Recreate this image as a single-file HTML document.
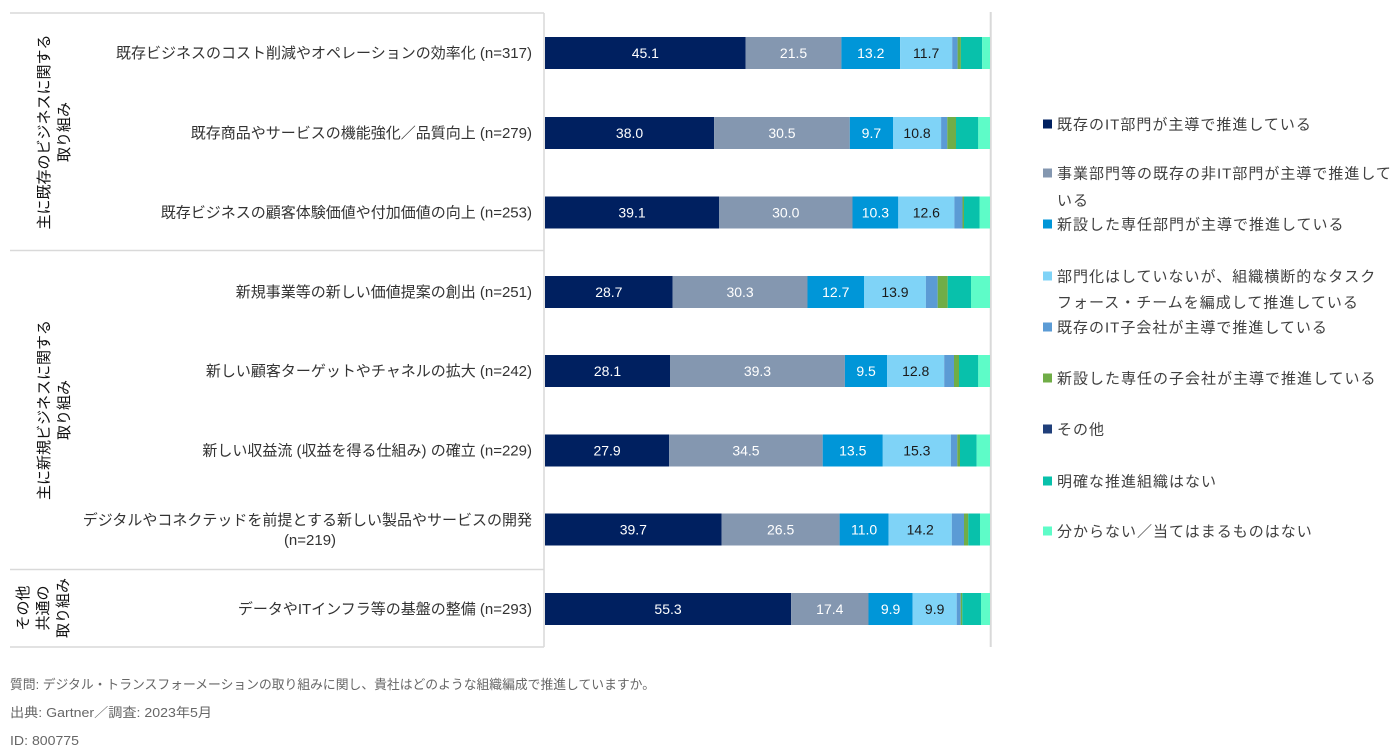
<!DOCTYPE html>
<html><head><meta charset="utf-8"><style>
html,body{margin:0;padding:0;background:#fff;}
svg{display:block;}
text{font-family:"Liberation Sans","Noto Sans CJK JP",sans-serif;}
.lbl{font-size:15px;fill:#333;text-anchor:end;}
.grp{font-size:15px;fill:#111;text-anchor:middle;}
.dv{font-size:14px;text-anchor:middle;fill:#fff;}
.dk{fill:#1a1a1a;}
.lg{font-size:15px;fill:#404040;letter-spacing:1px;}
.ft{font-size:13px;fill:#666;}
</style></head><body>
<svg width="1400" height="754" viewBox="0 0 1400 754" xmlns="http://www.w3.org/2000/svg">
<rect width="1400" height="754" fill="#fff"/>
<!-- table lines -->
<g stroke="#d9d9d9" stroke-width="1.5" fill="none">
<line x1="10" y1="13" x2="544" y2="13"/>
<line x1="10" y1="250.5" x2="544" y2="250.5"/>
<line x1="10" y1="569.5" x2="544" y2="569.5"/>
<line x1="10" y1="647" x2="544" y2="647"/>
<line x1="544" y1="13" x2="544" y2="647"/>
<line x1="990.7" y1="12" x2="990.7" y2="647" stroke-width="2"/>
</g>
<!-- group labels -->
<text class="grp" transform="translate(0,132) rotate(-90)"><tspan x="0" y="49">主に既存のビジネスに関する</tspan><tspan x="0" y="69">取り組み</tspan></text>
<text class="grp" transform="translate(0,410) rotate(-90)"><tspan x="0" y="49">主に新規ビジネスに関する</tspan><tspan x="0" y="69">取り組み</tspan></text>
<text class="grp" transform="translate(0,608) rotate(-90)"><tspan x="0" y="28">その他</tspan><tspan x="0" y="48">共通の</tspan><tspan x="0" y="68">取り組み</tspan></text>
<!-- row labels -->
<text class="lbl" x="532" y="58">既存ビジネスのコスト削減やオペレーションの効率化 (n=317)</text>
<text class="lbl" x="532" y="138">既存商品やサービスの機能強化／品質向上 (n=279)</text>
<text class="lbl" x="532" y="217.5">既存ビジネスの顧客体験価値や付加価値の向上 (n=253)</text>
<text class="lbl" x="532" y="297">新規事業等の新しい価値提案の創出 (n=251)</text>
<text class="lbl" x="532" y="376">新しい顧客ターゲットやチャネルの拡大 (n=242)</text>
<text class="lbl" x="532" y="455.5">新しい収益流 (収益を得る仕組み) の確立 (n=229)</text>
<text class="lbl" x="532" y="525">デジタルやコネクテッドを前提とする新しい製品やサービスの開発</text>
<text class="lbl" x="310" y="545" style="text-anchor:middle">(n=219)</text>
<text class="lbl" x="532" y="614">データやITインフラ等の基盤の整備 (n=293)</text>

<!-- bars -->
<g>
<!-- bar1 -->
<rect x="545" y="37" width="200.7" height="32" fill="#002060"/>
<rect x="745.7" y="37" width="95.7" height="32" fill="#8497b0"/>
<rect x="841.4" y="37" width="58.7" height="32" fill="#0096d8"/>
<rect x="900.1" y="37" width="52.1" height="32" fill="#7fd3f7"/>
<rect x="952.2" y="37" width="5.4" height="32" fill="#5b9bd5"/>
<rect x="957.6" y="37" width="3.3" height="32" fill="#70ad47"/>
<rect x="960.9" y="37" width="21.3" height="32" fill="#08c1ab"/>
<rect x="982.2" y="37" width="7.8" height="32" fill="#5efcc8"/>
<!-- bar2 -->
<rect x="545" y="117" width="169.1" height="32" fill="#002060"/>
<rect x="714.1" y="117" width="135.7" height="32" fill="#8497b0"/>
<rect x="849.8" y="117" width="43.2" height="32" fill="#0096d8"/>
<rect x="893.0" y="117" width="48.1" height="32" fill="#7fd3f7"/>
<rect x="941.1" y="117" width="6.2" height="32" fill="#5b9bd5"/>
<rect x="947.3" y="117" width="8.7" height="32" fill="#70ad47"/>
<rect x="956.0" y="117" width="22.3" height="32" fill="#08c1ab"/>
<rect x="978.3" y="117" width="11.7" height="32" fill="#5efcc8"/>
<!-- bar3 -->
<rect x="545" y="196.5" width="174.0" height="32" fill="#002060"/>
<rect x="719.0" y="196.5" width="133.5" height="32" fill="#8497b0"/>
<rect x="852.5" y="196.5" width="45.8" height="32" fill="#0096d8"/>
<rect x="898.3" y="196.5" width="56.1" height="32" fill="#7fd3f7"/>
<rect x="954.4" y="196.5" width="8.1" height="32" fill="#5b9bd5"/>
<rect x="962.5" y="196.5" width="1.5" height="32" fill="#70ad47"/>
<rect x="964.0" y="196.5" width="15.5" height="32" fill="#08c1ab"/>
<rect x="979.5" y="196.5" width="10.5" height="32" fill="#5efcc8"/>
<!-- bar4 -->
<rect x="545" y="276" width="127.7" height="32" fill="#002060"/>
<rect x="672.7" y="276" width="134.8" height="32" fill="#8497b0"/>
<rect x="807.5" y="276" width="56.5" height="32" fill="#0096d8"/>
<rect x="864.0" y="276" width="61.9" height="32" fill="#7fd3f7"/>
<rect x="925.9" y="276" width="11.8" height="32" fill="#5b9bd5"/>
<rect x="937.7" y="276" width="10" height="32" fill="#70ad47"/>
<rect x="947.7" y="276" width="23.3" height="32" fill="#08c1ab"/>
<rect x="971" y="276" width="19" height="32" fill="#5efcc8"/>
<!-- bar5 -->
<rect x="545" y="355" width="125.0" height="32" fill="#002060"/>
<rect x="670.0" y="355" width="174.9" height="32" fill="#8497b0"/>
<rect x="844.9" y="355" width="42.3" height="32" fill="#0096d8"/>
<rect x="887.2" y="355" width="57.0" height="32" fill="#7fd3f7"/>
<rect x="944.2" y="355" width="9.8" height="32" fill="#5b9bd5"/>
<rect x="954" y="355" width="5" height="32" fill="#70ad47"/>
<rect x="959" y="355" width="19.3" height="32" fill="#08c1ab"/>
<rect x="978.3" y="355" width="11.7" height="32" fill="#5efcc8"/>
<!-- bar6 -->
<rect x="545" y="434.5" width="124.2" height="32" fill="#002060"/>
<rect x="669.2" y="434.5" width="153.5" height="32" fill="#8497b0"/>
<rect x="822.7" y="434.5" width="60.1" height="32" fill="#0096d8"/>
<rect x="882.8" y="434.5" width="68.1" height="32" fill="#7fd3f7"/>
<rect x="950.9" y="434.5" width="6.4" height="32" fill="#5b9bd5"/>
<rect x="957.3" y="434.5" width="2.7" height="32" fill="#70ad47"/>
<rect x="960" y="434.5" width="16.7" height="32" fill="#08c1ab"/>
<rect x="976.7" y="434.5" width="13.3" height="32" fill="#5efcc8"/>
<!-- bar7 -->
<rect x="545" y="513.5" width="176.7" height="32" fill="#002060"/>
<rect x="721.7" y="513.5" width="117.9" height="32" fill="#8497b0"/>
<rect x="839.6" y="513.5" width="49.0" height="32" fill="#0096d8"/>
<rect x="888.6" y="513.5" width="63.2" height="32" fill="#7fd3f7"/>
<rect x="951.8" y="513.5" width="12.2" height="32" fill="#5b9bd5"/>
<rect x="964" y="513.5" width="4.3" height="32" fill="#70ad47"/>
<rect x="968.3" y="513.5" width="11.7" height="32" fill="#08c1ab"/>
<rect x="980" y="513.5" width="10" height="32" fill="#5efcc8"/>
<!-- bar8 -->
<rect x="545" y="593" width="246.1" height="32" fill="#002060"/>
<rect x="791.1" y="593" width="77.4" height="32" fill="#8497b0"/>
<rect x="868.5" y="593" width="44.1" height="32" fill="#0096d8"/>
<rect x="912.6" y="593" width="44.1" height="32" fill="#7fd3f7"/>
<rect x="956.7" y="593" width="4" height="32" fill="#5b9bd5"/>
<rect x="960.7" y="593" width="1.6" height="32" fill="#70ad47"/>
<rect x="962.3" y="593" width="18.7" height="32" fill="#08c1ab"/>
<rect x="981" y="593" width="9" height="32" fill="#5efcc8"/>
</g>
<!-- data labels -->
<g>
<text class="dv" x="645.35" y="58">45.1</text><text class="dv" x="793.55" y="58">21.5</text><text class="dv" x="870.75" y="58">13.2</text><text class="dv dk" x="926.15" y="58">11.7</text>
<text class="dv" x="629.55" y="138">38.0</text><text class="dv" x="781.95" y="138">30.5</text><text class="dv" x="871.4" y="138">9.7</text><text class="dv dk" x="917.05" y="138">10.8</text>
<text class="dv" x="632" y="217.5">39.1</text><text class="dv" x="785.75" y="217.5">30.0</text><text class="dv" x="875.4" y="217.5">10.3</text><text class="dv dk" x="926.35" y="217.5">12.6</text>
<text class="dv" x="608.85" y="297">28.7</text><text class="dv" x="740.1" y="297">30.3</text><text class="dv" x="835.75" y="297">12.7</text><text class="dv dk" x="894.95" y="297">13.9</text>
<text class="dv" x="607.5" y="376">28.1</text><text class="dv" x="757.45" y="376">39.3</text><text class="dv" x="866.05" y="376">9.5</text><text class="dv dk" x="915.7" y="376">12.8</text>
<text class="dv" x="607.1" y="455.5">27.9</text><text class="dv" x="745.95" y="455.5">34.5</text><text class="dv" x="852.75" y="455.5">13.5</text><text class="dv dk" x="916.85" y="455.5">15.3</text>
<text class="dv" x="633.35" y="534.5">39.7</text><text class="dv" x="780.65" y="534.5">26.5</text><text class="dv" x="864.1" y="534.5">11.0</text><text class="dv dk" x="920.2" y="534.5">14.2</text>
<text class="dv" x="668.05" y="614">55.3</text><text class="dv" x="829.8" y="614">17.4</text><text class="dv" x="890.55" y="614">9.9</text><text class="dv dk" x="934.65" y="614">9.9</text>
</g>
<!-- legend -->
<g>
<rect x="1043" y="119.5" width="9" height="9" fill="#002060"/>
<text class="lg" x="1057" y="129.5">既存のIT部門が主導で推進している</text>
<rect x="1043" y="168.5" width="9" height="9" fill="#8497b0"/>
<text class="lg" x="1057" y="178.5">事業部門等の既存の非IT部門が主導で推進して</text>
<text class="lg" x="1057" y="205.5">いる</text>
<rect x="1043" y="219.5" width="9" height="9" fill="#0096d8"/>
<text class="lg" x="1057" y="229.5">新設した専任部門が主導で推進している</text>
<rect x="1043" y="271.5" width="9" height="9" fill="#7fd3f7"/>
<text class="lg" x="1057" y="281.5">部門化はしていないが、組織横断的なタスク</text>
<text class="lg" x="1057" y="307.5">フォース・チームを編成して推進している</text>
<rect x="1043" y="322.5" width="9" height="9" fill="#5b9bd5"/>
<text class="lg" x="1057" y="332.5">既存のIT子会社が主導で推進している</text>
<rect x="1043" y="373.5" width="9" height="9" fill="#70ad47"/>
<text class="lg" x="1057" y="383.5">新設した専任の子会社が主導で推進している</text>
<rect x="1043" y="424.5" width="9" height="9" fill="#203f7a"/>
<text class="lg" x="1057" y="434.5">その他</text>
<rect x="1043" y="476.5" width="9" height="9" fill="#08c1ab"/>
<text class="lg" x="1057" y="486.5">明確な推進組織はない</text>
<rect x="1043" y="526.5" width="9" height="9" fill="#5efcc8"/>
<text class="lg" x="1057" y="536.5">分からない／当てはまるものはない</text>
</g>
<!-- footer -->
<text class="ft" x="10" y="689" textLength="645" lengthAdjust="spacingAndGlyphs">質問: デジタル・トランスフォーメーションの取り組みに関し、貴社はどのような組織編成で推進していますか。</text>
<text class="ft" x="10" y="717" textLength="202" lengthAdjust="spacingAndGlyphs">出典: Gartner／調査: 2023年5月</text>
<text class="ft" x="10" y="745" textLength="69" lengthAdjust="spacingAndGlyphs">ID: 800775</text>
</svg>
</body></html>
